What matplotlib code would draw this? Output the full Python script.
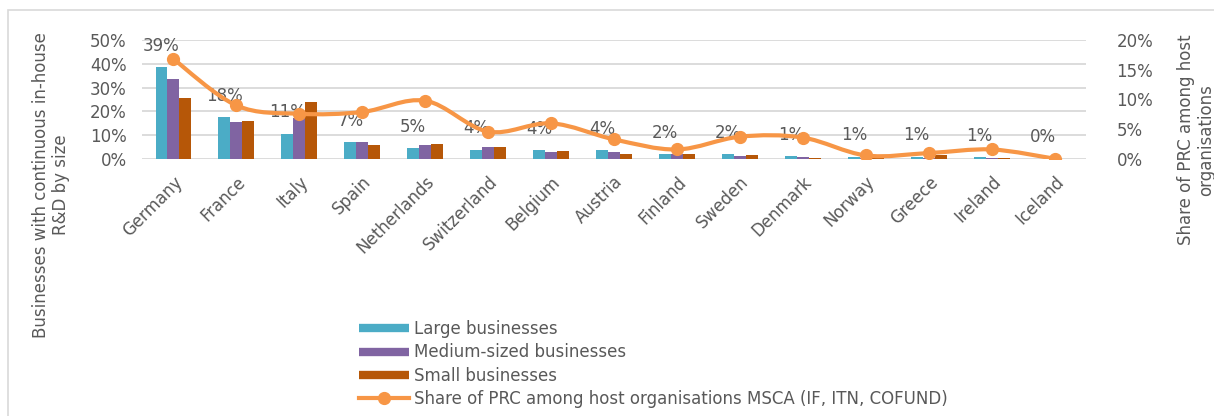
import matplotlib
matplotlib.use("Agg")
import matplotlib.pyplot as plt
from matplotlib.path import Path
from matplotlib.patches import PathPatch, Rectangle
from matplotlib.lines import Line2D
from matplotlib.ticker import PercentFormatter
import numpy as np

plt.rcParams["font.family"] = ["DejaVu Sans"]

# data
countries = ["Germany", "France", "Italy", "Spain", "Netherlands", "Switzerland",
             "Belgium", "Austria", "Finland", "Sweden", "Denmark", "Norway",
             "Greece", "Ireland", "Iceland"]
large = [38.6, 17.6, 10.6, 7.0, 4.6, 3.8, 3.6, 3.6, 2.1, 2.0, 1.2, 1.0, 1.0, 0.7, 0.1]
medium = [33.6, 15.5, 17.3, 7.0, 5.9, 5.2, 3.1, 2.8, 2.1, 1.3, 0.8, 0.5, 0.6, 0.5, 0.0]
small = [25.8, 16.0, 23.8, 5.9, 6.3, 5.2, 3.4, 2.1, 2.1, 1.7, 0.6, 0.4, 1.8, 0.6, 0.0]
prc_share = [16.8, 9.0, 7.6, 7.9, 9.8, 4.6, 6.0, 3.3, 1.6, 3.75, 3.6, 0.6, 1.0, 1.6, 0.05]

c_large = "#4bacc6"
c_medium = "#8064a2"
c_small = "#b65708"
c_line = "#f79646"
txt = "#595959"
grid = "#d9d9d9"

W, H = 1214, 416
fig = plt.figure(figsize=(W / 100, H / 100), dpi=100)

# rahmen um das diagramm
fig.patches.append(Rectangle((8 / W, -0.05), 1.2, 1 - 10 / H + 0.05, transform=fig.transFigure,
                             fill=False, edgecolor=grid, linewidth=1.2))

ax = fig.add_axes([142 / W, 1 - 159 / H, (1086 - 142) / W, (159 - 40) / H])
ax2 = ax.twinx()

x = np.arange(len(countries))
bw = 0.19
ax.bar(x - bw, large, bw, color=c_large, zorder=2)
ax.bar(x, medium, bw, color=c_medium, zorder=2)
ax.bar(x + bw, small, bw, color=c_small, zorder=2)

for xi, v in zip(x, large):
    ax.annotate(f"{v:.0f}%", (xi - bw, v), xytext=(0, 9), textcoords="offset points",
                ha="center", va="bottom", fontsize=12, color=txt)

ax.set_xlim(-0.5, len(countries) - 0.5)
ax.set_ylim(0, 50)
ax.set_yticks([0, 10, 20, 30, 40, 50])
ax.yaxis.set_major_formatter(PercentFormatter(decimals=0))
ax.grid(axis="y", color=grid, linewidth=1.3, zorder=0)
ax.set_axisbelow(True)
ax.set_xticks(x)
ax.set_xticklabels(countries, rotation=45, ha="right", rotation_mode="anchor")
ax.tick_params(axis="both", length=0, labelsize=12, labelcolor=txt)
ax.tick_params(axis="y", pad=11)
ax.tick_params(axis="x", pad=10)

# geglaettete linie (catmull-rom -> bezier)
pts = np.column_stack([x, prc_share]).astype(float)
ext = np.vstack([pts[0], pts, pts[-1]])
verts = [tuple(pts[0])]
codes = [Path.MOVETO]
for i in range(1, len(ext) - 2):
    p0, p1, p2, p3 = ext[i - 1], ext[i], ext[i + 1], ext[i + 2]
    c1 = p1 + (p2 - p0) / 6
    c2 = p2 - (p3 - p1) / 6
    verts += [tuple(c1), tuple(c2), tuple(p2)]
    codes += [Path.CURVE4] * 3
ax2.add_patch(PathPatch(Path(verts, codes), facecolor="none", edgecolor=c_line,
                        linewidth=3, capstyle="round", zorder=3))
ax2.plot(x, prc_share, "o", color=c_line, markersize=8.5, zorder=4)
ax2.set_ylim(0, 20)
ax2.set_yticks([0, 5, 10, 15, 20])
ax2.yaxis.set_major_formatter(PercentFormatter(decimals=0))
ax2.tick_params(axis="y", length=0, labelsize=12, labelcolor=txt, pad=22)

for a in (ax, ax2):
    for s in a.spines.values():
        s.set_visible(False)

fig.text(51 / W, 1 - 185 / H, "Businesses with continuous in-house\nR&D by size",
         rotation=90, ha="center", va="center", multialignment="center",
         fontsize=12, color=txt)
fig.text(1196 / W, 1 - 140 / H, "Share of PRC among host\norganisations",
         rotation=90, ha="center", va="center", multialignment="center",
         fontsize=12, color=txt)

handles = [
    Line2D([], [], color=c_large, linewidth=6, solid_capstyle="butt"),
    Line2D([], [], color=c_medium, linewidth=6, solid_capstyle="butt"),
    Line2D([], [], color=c_small, linewidth=6, solid_capstyle="butt"),
    Line2D([], [], color=c_line, linewidth=3, marker="o", markersize=8.5),
]
labels = ["Large businesses", "Medium-sized businesses", "Small businesses",
          "Share of PRC among host organisations MSCA (IF, ITN, COFUND)"]
fig.legend(handles, labels, loc="upper left", bbox_to_anchor=(359 / W, 1 - 320 / H),
           frameon=False, fontsize=12, labelcolor=txt, handlelength=3.0,
           handletextpad=0.3, labelspacing=0.32, borderpad=0, borderaxespad=0)

fig.savefig("out.png", dpi=100)
